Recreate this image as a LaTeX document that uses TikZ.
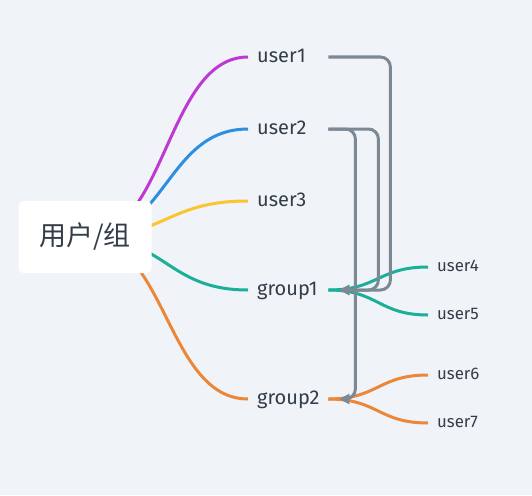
\documentclass[tikz,border=0pt]{standalone}
\usepackage{fontspec}
\setmainfont{Fira Sans}
\newfontfamily\cjk{Noto Sans CJK SC}
\usetikzlibrary{calc,arrows.meta,positioning}

\definecolor{bgcol}{HTML}{F0F4F8}
\definecolor{inkcol}{HTML}{323D49}
\definecolor{lnmagenta}{HTML}{BF38D4}
\definecolor{lnblue}{HTML}{2E8FE0}
\definecolor{lnyellow}{HTML}{FBC531}
\definecolor{lnteal}{HTML}{1BAF9A}
\definecolor{lnorange}{HTML}{EB8738}
\definecolor{lngray}{HTML}{7D8895}

\begin{document}
\begin{tikzpicture}[x=1pt, y=-1pt,
		rootbox/.style={rectangle, fill=white, rounded corners=5pt, minimum width=133pt, minimum height=72pt, text=inkcol, font=\cjk\fontsize{27}{32}\selectfont},
		topic/.style={anchor=west, inner xsep=9pt, inner ysep=0pt, text width=62pt, text height=15pt, text depth=4.5pt, text=inkcol, font=\fontsize{20}{24}\selectfont},
		subtopic/.style={topic, text width=48pt, text height=12.5pt, text depth=3.6pt, font=\fontsize{16.8}{20}\selectfont},
		curve/.style={to path={let \p1=(\tikztostart), \p2=(\tikztotarget), \p3=($(\p1)!.5!(\p2)$) in .. controls (\x3,\y1) and (\x3,\y2) .. (\tikztotarget)}},
		branch/.style={line width=3pt},
		link/.style={line width=3pt, draw=lngray, rounded corners=10pt, -{Triangle[length=10pt,width=10pt]}}
	]
		\fill[bgcol] (0,0) rectangle (532,495);
		\coordinate (rc) at (85,237);

		\node (u1) [topic] at (248,57)  {user1};
		\node (u2) [topic] at (248,129) {user2};
		\node (u3) [topic] at (248,201) {user3};
		\node (g1) [topic] at (248,290) {group1};
		\node (g2) [topic] at (248,399) {group2};

		\node (u4) [subtopic] at (428,267) {user4};
		\node (u5) [subtopic] at (428,315) {user5};
		\node (u6) [subtopic] at (428,375) {user6};
		\node (u7) [subtopic] at (428,423) {user7};

		\draw [branch, lnmagenta] (rc) to[curve] (u1.west);
		\draw [branch, lnblue]    (rc) to[curve] (u2.west);
		\draw [branch, lnyellow]  (rc) to[curve] (u3.west);
		\draw [branch, lnteal]    (rc) to[curve] (g1.west);
		\draw [branch, lnorange]  (rc) to[curve] (g2.west);

		\draw [branch, lnteal]   (g1.east) to[curve] (u4.west);
		\draw [branch, lnteal]   (g1.east) to[curve] (u5.west);
		\draw [branch, lnorange] (g2.east) to[curve] (u6.west);
		\draw [branch, lnorange] (g2.east) to[curve] (u7.west);

		\node (root) [rootbox] at (rc) {用户/组};

		% associations
		\coordinate (g1in) at ([xshift=11pt]g1.east);
		\coordinate (g2in) at ([xshift=11pt]g2.east);
		\draw [link] (u1.east) -| ([xshift=51pt]g1in) -- (g1in);
		\draw [link] (u2.east) -| ([xshift=39pt]g1in) -- (g1in);
		\draw [link] (u2.east) -| ([xshift=16pt]g2in) -- (g2in);

	\end{tikzpicture}
\end{document}
